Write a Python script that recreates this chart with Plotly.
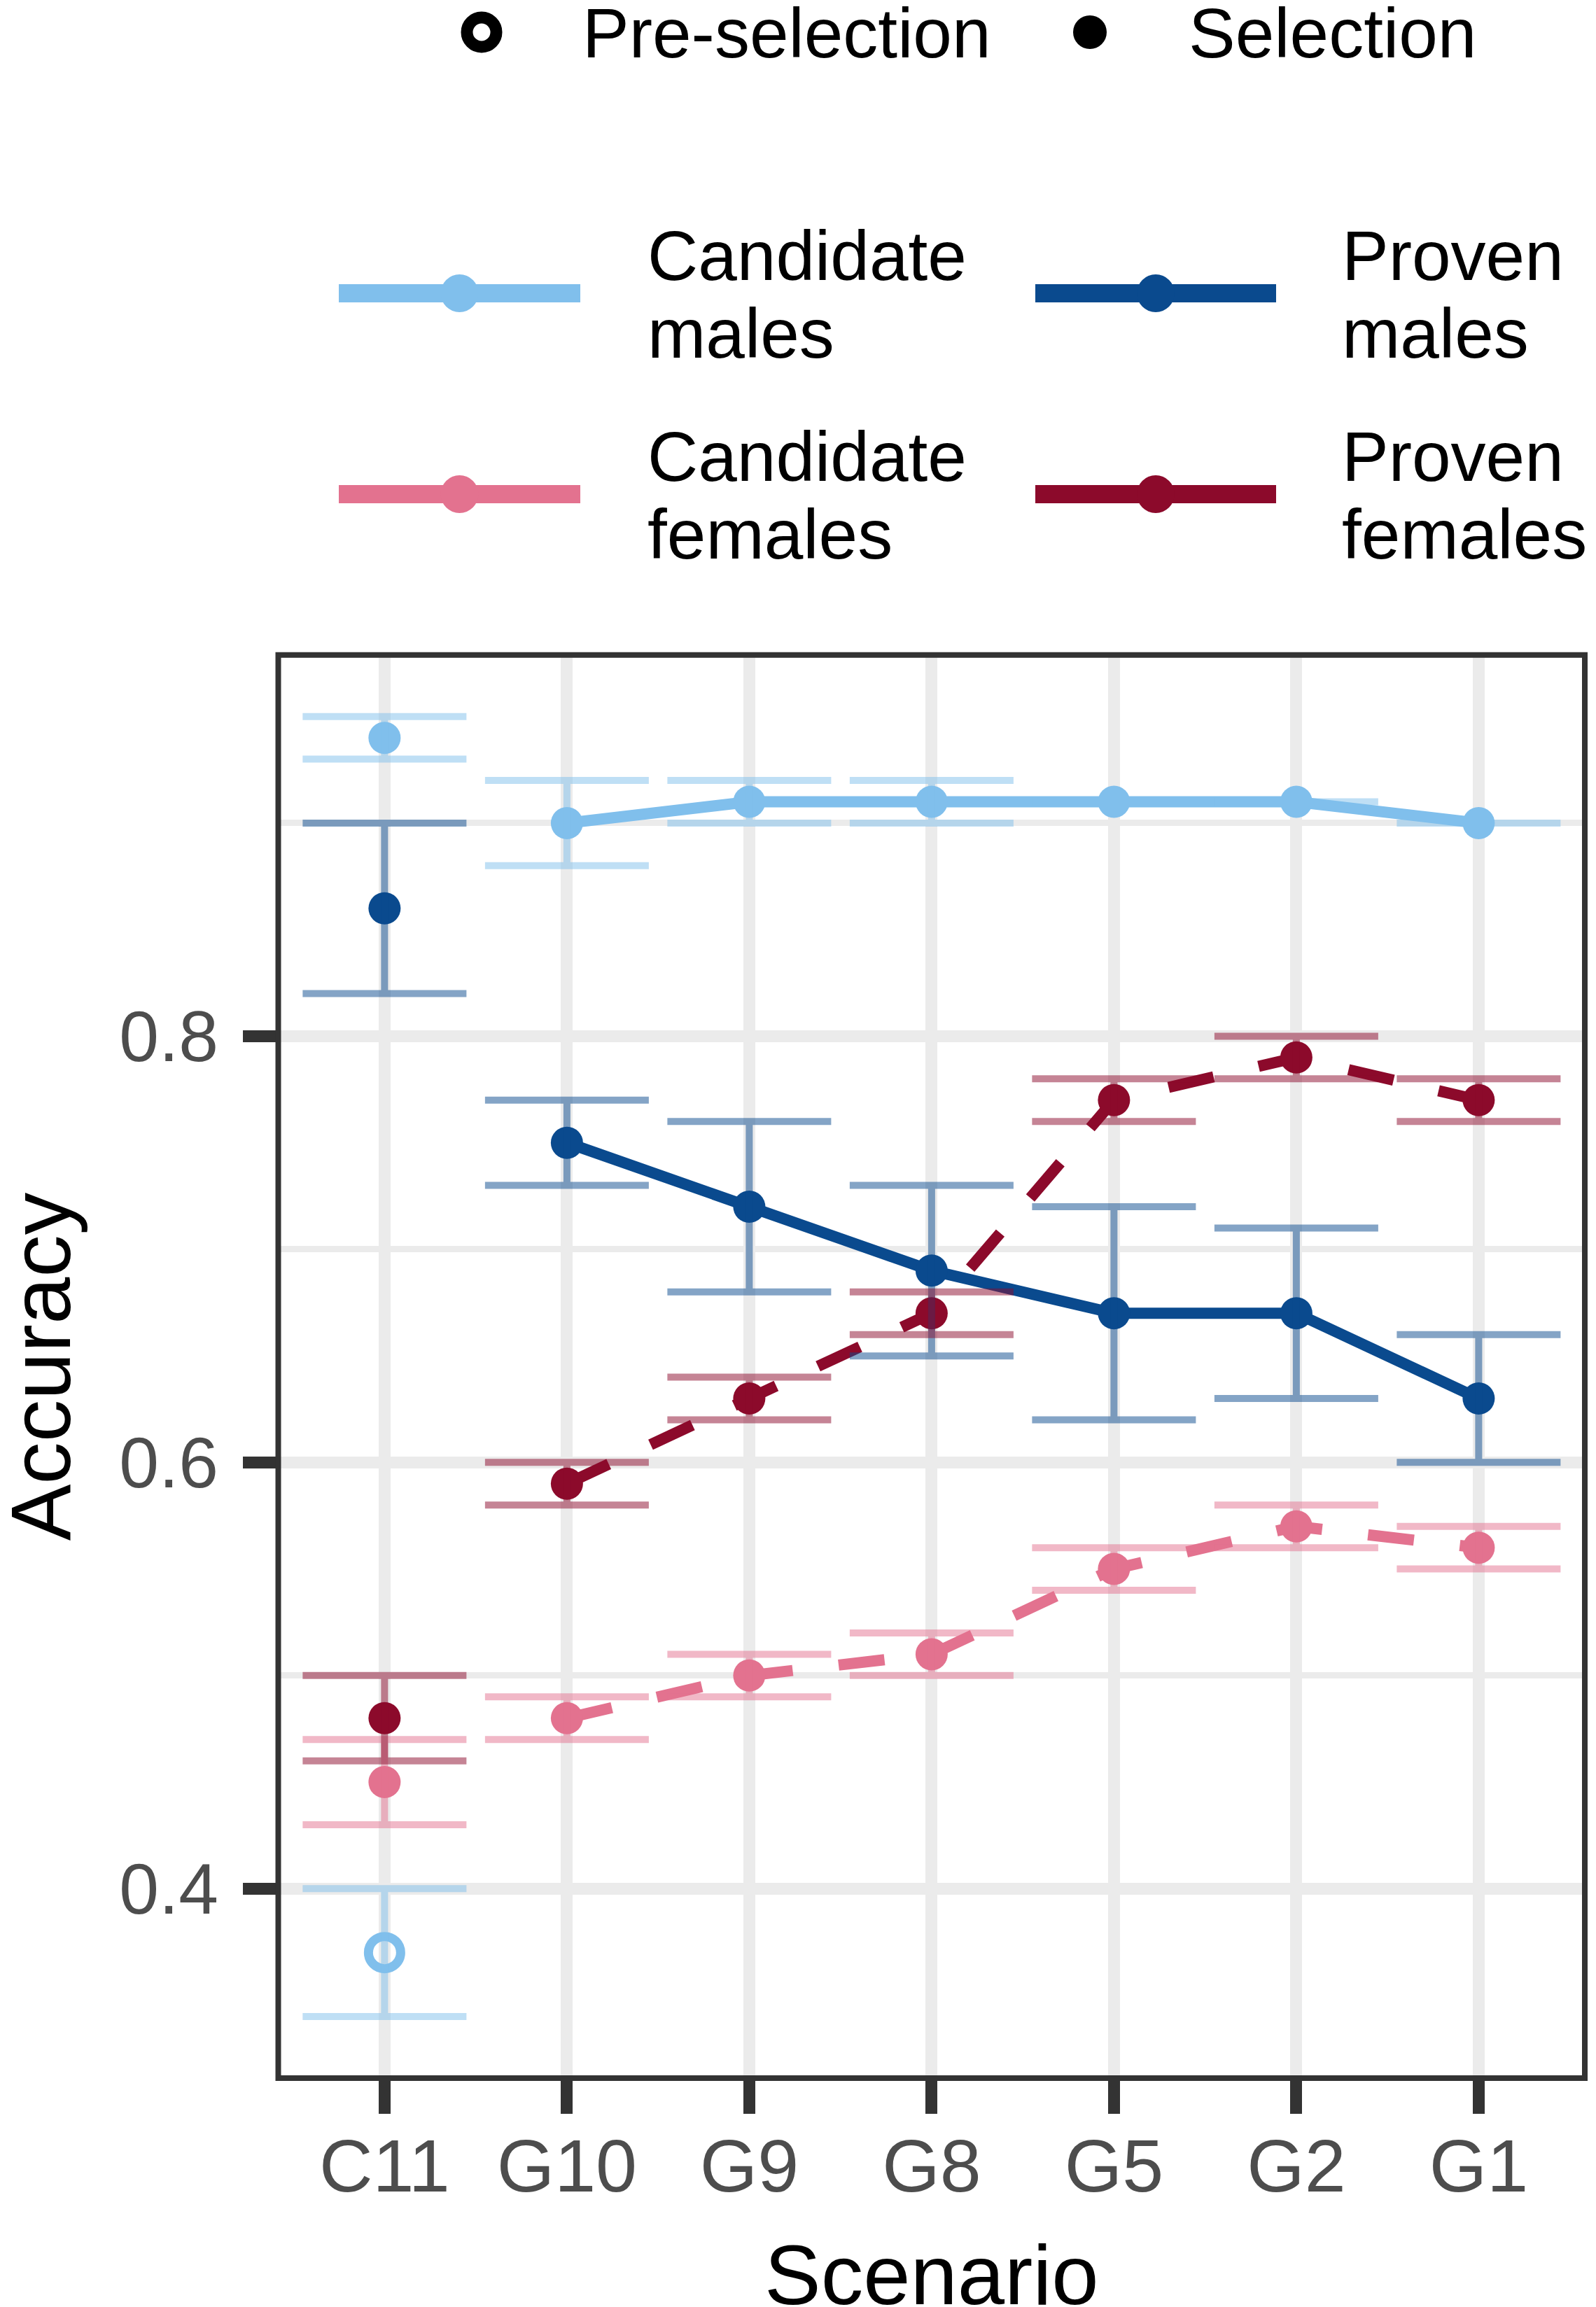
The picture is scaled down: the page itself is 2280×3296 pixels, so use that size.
import plotly.graph_objects as go

W, H = 2280, 3296

# ---------------- data ----------------
scenarios = ["C11", "G10", "G9", "G8", "G5", "G2", "G1"]

cand_males = [0.94, 0.90, 0.91, 0.91, 0.91, 0.91, 0.90]
cand_males_lo = [0.93, 0.88, 0.90, 0.90, 0.91, 0.91, 0.90]
cand_males_hi = [0.95, 0.92, 0.92, 0.92, 0.91, 0.91, 0.90]

proven_males = [0.86, 0.75, 0.72, 0.69, 0.67, 0.67, 0.63]
proven_males_lo = [0.82, 0.73, 0.68, 0.65, 0.62, 0.63, 0.60]
proven_males_hi = [0.90, 0.77, 0.76, 0.73, 0.72, 0.71, 0.66]

cand_females = [0.45, 0.48, 0.50, 0.51, 0.55, 0.57, 0.56]
cand_females_lo = [0.43, 0.47, 0.49, 0.50, 0.54, 0.56, 0.55]
cand_females_hi = [0.47, 0.49, 0.51, 0.52, 0.56, 0.58, 0.57]

proven_females = [0.48, 0.59, 0.63, 0.67, 0.77, 0.79, 0.77]
proven_females_lo = [0.46, 0.58, 0.62, 0.66, 0.76, 0.78, 0.76]
proven_females_hi = [0.50, 0.60, 0.64, 0.68, 0.78, 0.80, 0.78]

pre_scenarios = ["C11"]
pre_cand_males = [0.37]
pre_cand_males_lo = [0.34]
pre_cand_males_hi = [0.40]

y_ticks = [0.4, 0.6, 0.8]
y_tick_labels = ["0.4", "0.6", "0.8"]
y_minor = [0.5, 0.7, 0.9]

# ---------------- style ----------------
FONT = "Liberation Sans, Arial, Helvetica, sans-serif"
C_CM = "#80BFEC"
C_PM = "#0A4A8E"
C_CF = "#E3728F"
C_PF = "#8C0A2B"


def rgba(hexcol, a):
    h = hexcol.lstrip("#")
    r, g, b = int(h[0:2], 16), int(h[2:4], 16), int(h[4:6], 16)
    return f"rgba({r},{g},{b},{a})"


PANEL_L, PANEL_R, PANEL_T, PANEL_B = 397.5, 2264.0, 935.7, 2969.0
LW = 16
MS = 46
DASH = "66px,66px"

series = [
    ("Candidate males", cand_males, cand_males_lo, cand_males_hi, C_CM, "solid"),
    ("Candidate females", cand_females, cand_females_lo, cand_females_hi, C_CF, "dash"),
    ("Proven males", proven_males, proven_males_lo, proven_males_hi, C_PM, "solid"),
    ("Proven females", proven_females, proven_females_lo, proven_females_hi, C_PF, "dash"),
]

fig = go.Figure()

# lines (G10 .. G1)
for name, v, lo, hi, col, dash in series:
    fig.add_trace(go.Scatter(
        x=scenarios[1:], y=v[1:], mode="lines",
        line=dict(color=col, width=LW, dash=DASH if dash == "dash" else "solid"),
        showlegend=False, hoverinfo="skip"))

# points
for name, v, lo, hi, col, dash in series:
    fig.add_trace(go.Scatter(
        x=scenarios, y=v, mode="markers",
        marker=dict(color=col, size=MS, line=dict(width=0)),
        showlegend=False, name=name))

fig.add_trace(go.Scatter(
    x=pre_scenarios, y=pre_cand_males, mode="markers",
    marker=dict(color=C_CM, size=MS, symbol="circle-open", line=dict(width=13)),
    showlegend=False, name="Candidate males (pre-selection)"))


# error bars on top
def add_err(x, v, lo, hi, col):
    fig.add_trace(go.Scatter(
        x=x, y=v, mode="markers",
        marker=dict(color="rgba(0,0,0,0)", size=1),
        error_y=dict(type="data", symmetric=False,
                     array=[h - m for h, m in zip(hi, v)],
                     arrayminus=[m - l for m, l in zip(v, lo)],
                     color=rgba(col, 0.5), thickness=10, width=117),
        showlegend=False, hoverinfo="skip"))


for name, v, lo, hi, col, dash in series:
    add_err(scenarios, v, lo, hi, col)
add_err(pre_scenarios, pre_cand_males, pre_cand_males_lo, pre_cand_males_hi, C_CM)

# ---------------- layout ----------------
fig.update_layout(
    width=W, height=H,
    margin=dict(l=0, r=0, t=0, b=0, pad=0),
    paper_bgcolor="white", plot_bgcolor="white",
    font=dict(family=FONT, color="black"),
    showlegend=False,
    xaxis=dict(
        domain=[PANEL_L / W, PANEL_R / W],
        type="category", categoryorder="array", categoryarray=scenarios,
        range=[-0.583, 6.582],
        showgrid=True, gridcolor="#EBEBEB", gridwidth=17,
        showline=False, zeroline=False,
        ticks="outside", ticklen=50, tickwidth=17, tickcolor="#333333",
        tickfont=dict(size=106, color="#4D4D4D", family=FONT),
        ticklabelstandoff=-16,
    ),
    yaxis=dict(
        domain=[1 - PANEL_B / H, 1 - PANEL_T / H],
        range=[0.3111, 0.9789],
        tickvals=y_ticks, ticktext=y_tick_labels,
        showgrid=True, gridcolor="#EBEBEB", gridwidth=17,
        minor=dict(tickvals=y_minor, showgrid=True, gridcolor="#EBEBEB",
                   gridwidth=8.5, ticks=""),
        showline=False, zeroline=False,
        ticks="outside", ticklen=50, tickwidth=17, tickcolor="#333333",
        tickfont=dict(size=102, color="#4D4D4D", family=FONT),
        ticklabelstandoff=14,
    ),
)

# panel border
fig.add_shape(type="rect", xref="paper", yref="paper",
              x0=PANEL_L / W, x1=PANEL_R / W, y0=1 - PANEL_B / H, y1=1 - PANEL_T / H,
              line=dict(color="#333333", width=8), fillcolor="rgba(0,0,0,0)", layer="above")

# axis titles
fig.add_annotation(text="Scenario", xref="paper", yref="paper",
                   x=((PANEL_L + PANEL_R) / 2) / W, y=1 - 3250 / H,
                   xanchor="center", yanchor="middle", showarrow=False,
                   font=dict(size=121, color="black", family=FONT))
fig.add_annotation(text="Accuracy", xref="paper", yref="paper",
                   x=58 / W, y=1 - ((PANEL_T + PANEL_B) / 2) / H,
                   xanchor="center", yanchor="middle", showarrow=False, textangle=-90,
                   font=dict(size=121, color="black", family=FONT))

# ---------------- legends (drawn manually) ----------------
LEG_FS = 100


def leg_text(txt, xpx, ypx):
    fig.add_annotation(text=txt, xref="paper", yref="paper", x=xpx / W, y=1 - ypx / H,
                       xanchor="left", yanchor="middle", showarrow=False,
                       font=dict(size=LEG_FS, color="black", family=FONT))


def leg_dot(xpx, ypx, d, col, open_=False, lw=0):
    r = d / 2
    fig.add_shape(type="circle", xref="paper", yref="paper",
                  xsizemode="pixel", ysizemode="pixel",
                  xanchor=xpx / W, yanchor=1 - ypx / H,
                  x0=-r, x1=r, y0=-r, y1=r,
                  fillcolor="rgba(0,0,0,0)" if open_ else col,
                  line=dict(color=col, width=lw if open_ else 0), layer="above")


def leg_line(x0, x1, ypx, col):
    fig.add_shape(type="line", xref="paper", yref="paper",
                  x0=x0 / W, x1=x1 / W, y0=1 - ypx / H, y1=1 - ypx / H,
                  line=dict(color=col, width=26), layer="above")


# shape legend
leg_dot(688, 46, 42, "black", open_=True, lw=17)
leg_text("Pre-selection", 830, 47)
leg_dot(1557, 46, 48, "black")
leg_text("Selection", 1696, 47)

# colour legend
legend_items = [
    (["Candidate", "males"], C_CM, 484, 829, 419, 923),
    (["Proven", "males"], C_PM, 1479, 1823, 419, 1915),
    (["Candidate", "females"], C_CF, 484, 829, 706, 923),
    (["Proven", "females"], C_PF, 1479, 1823, 706, 1915),
]
for lines, col, x0, x1, yc, tx in legend_items:
    leg_line(x0, x1, yc, col)
    leg_dot((x0 + x1) / 2, yc, 54, col)
    leg_text(lines[0], tx, yc - 54)
    leg_text(lines[1], tx, yc + 57)

fig.write_html("out.html", config={"displayModeBar": False},
               post_script="document.body.style.margin='0px';")
